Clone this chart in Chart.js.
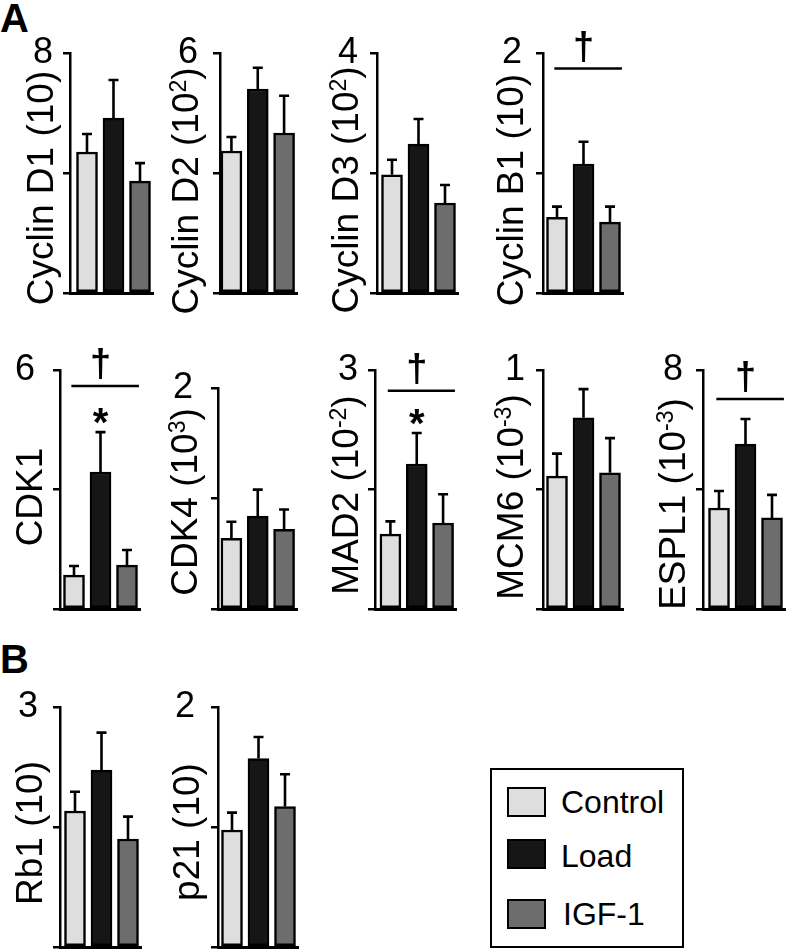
<!DOCTYPE html>
<html>
<head>
<meta charset="utf-8">
<script src="https://cdn.jsdelivr.net/npm/chart.js@4.4.0/dist/chart.umd.min.js"></script>
<style>
  body { margin: 0; width: 786px; height: 949px; overflow: hidden; background: #fff; position: relative; }
  canvas { position: absolute; }
  .txt { position: absolute; white-space: nowrap; color: #000; font-family: 'Liberation Sans', Arial, sans-serif; }
</style>
</head>
<body>
<div class="txt" style="left:0;top:-2px;font-weight:bold;font-size:40px;line-height:40px;">A</div>
<div class="txt" style="left:0;top:639px;font-weight:bold;font-size:40px;line-height:40px;">B</div>
<script>
const genes = ['Cyclin D1', 'Cyclin D2', 'Cyclin D3', 'Cyclin B1', 'CDK1', 'CDK4', 'MAD2', 'MCM6', 'ESPL1', 'Rb1', 'p21'];
// power of ten in the axis title: 0 = none, 1 = "(10)"
const unitPow = [1, 2, 2, 1, 0, 3, -2, -3, -3, 1, 1];
const series = ['Control', 'Load', 'IGF-1'];
const yMax = [8, 6, 4, 2, 6, 2, 3, 1, 8, 3, 2];

const control    = [4.7, 3.55, 1.97, 0.63, 0.85, 0.64, 0.94, 0.556, 3.38, 1.7, 0.975];
const controlErr = [0.6, 0.35, 0.25, 0.09, 0.23, 0.15, 0.16, 0.094, 0.57, 0.24, 0.145];
const load       = [5.83, 5.1, 2.48, 1.075, 3.44, 0.84, 1.82, 0.8, 5.52, 2.21, 1.57];
const loadErr    = [1.27, 0.53, 0.42, 0.185, 1.0, 0.24, 0.39, 0.12, 0.84, 0.47, 0.18];
const igf        = [3.73, 4.0, 1.5, 0.59, 1.1, 0.72, 1.08, 0.57, 3.05, 1.35, 1.17];
const igfErr     = [0.6, 0.93, 0.3, 0.13, 0.38, 0.18, 0.36, 0.145, 0.77, 0.28, 0.27];

// † bracket height (axis units), * over Load
const daggerAt = [null, null, null, 1.87, 5.6, null, 2.74, null, 7.03, null, null];
const starOn   = [false, false, false, false, true, false, true, false, false, false, false];

const barColors = ['#dedede', '#161616', '#6d6d6d'];
const FONT = "'Liberation Sans', Arial, sans-serif";
const STEP = 26.5;
const TITLE_PX = 37, SUP_PX = 23;

// panel placement: axis x, top tick y, baseline y, first bar offset, title baseline x / centre y, label gap
const layout = [
  {ax: 70,  top: 53,  bot: 293, off: 17,   tx: 53,  ty: 188, gap: 17},
  {ax: 220, top: 53,  bot: 293, off: 11.5, tx: 198, ty: 191, gap: 22},
  {ax: 377, top: 53,  bot: 293, off: 15,   tx: 358, ty: 190, gap: 19},
  {ax: 543, top: 53,  bot: 293, off: 14,   tx: 523, ty: 190, gap: 21},
  {ax: 60,  top: 370, bot: 609, off: 14,   tx: 42,  ty: 497, gap: 25},
  {ax: 218, top: 388, bot: 609, off: 13.5, tx: 197, ty: 502, gap: 25},
  {ax: 375, top: 370, bot: 609, off: 15.5, tx: 358, ty: 495, gap: 17},
  {ax: 543, top: 370, bot: 609, off: 14,   tx: 523, ty: 497, gap: 18},
  {ax: 703, top: 370, bot: 609, off: 16,   tx: 685, ty: 504, gap: 20},
  {ax: 60,  top: 707, bot: 947, off: 15,   tx: 42,  ty: 833, gap: 22},
  {ax: 218, top: 707, bot: 947, off: 14,   tx: 199, ty: 832, gap: 23}
];

function titleParts(i) {
  const p = unitPow[i];
  if (p === 0) return [[genes[i], false]];
  if (p === 1) return [[genes[i] + ' (10)', false]];
  return [[genes[i] + ' (10', false], [String(p), true], [')', false]];
}

const panelDecor = {
  id: 'panelDecor',
  afterDatasetsDraw(chart, args, opts) {
    const i = opts.idx;
    const L = layout[i];
    const ctx = chart.ctx;
    const xs = chart.scales.x, ys = chart.scales.y;
    const meta = chart.getDatasetMeta(0);
    const means = [control[i], load[i], igf[i]];
    const errs = [controlErr[i], loadErr[i], igfErr[i]];
    ctx.save();
    ctx.strokeStyle = '#000';
    ctx.fillStyle = '#000';
    ctx.lineWidth = 2.6;
    meta.data.forEach((bar, j) => {
      const yTop = ys.getPixelForValue(means[j] + errs[j]);
      ctx.beginPath();
      ctx.moveTo(bar.x, bar.y);
      ctx.lineTo(bar.x, yTop);
      ctx.moveTo(bar.x - 5, yTop);
      ctx.lineTo(bar.x + 5, yTop);
      ctx.stroke();
    });

    if (daggerAt[i] !== null) {
      const ly = ys.getPixelForValue(daggerAt[i]);
      ctx.lineWidth = 2.5;
      ctx.beginPath();
      ctx.moveTo(xs.getPixelForValue(0.9), ly);
      ctx.lineTo(xs.getPixelForValue(3.45), ly);
      ctx.stroke();
      ctx.font = 'bold 38px ' + FONT;
      ctx.textAlign = 'center';
      ctx.textBaseline = 'alphabetic';
      ctx.fillText('\u2020', xs.getPixelForValue(2), ly - 10);
    }
    if (starOn[i]) {
      const yTop = ys.getPixelForValue(load[i] + loadErr[i]);
      ctx.font = 'bold 40px ' + FONT;
      ctx.textAlign = 'center';
      ctx.textBaseline = 'alphabetic';
      ctx.fillText('*', xs.getPixelForValue(2), yTop + 4);
    }

    // rotated axis title
    ctx.translate(L.tx - L.ax + 70, L.ty - L.top + 40);
    ctx.rotate(-Math.PI / 2);
    const parts = titleParts(i);
    const fontOf = sup => (sup ? SUP_PX : TITLE_PX) + 'px ' + FONT;
    let total = 0;
    parts.forEach(([t, sup]) => {
      ctx.font = fontOf(sup);
      total += ctx.measureText(t).width;
    });
    let cx = -total / 2;
    ctx.textAlign = 'left';
    ctx.textBaseline = 'alphabetic';
    parts.forEach(([t, sup]) => {
      ctx.font = fontOf(sup);
      ctx.fillText(t, cx, sup ? -12 : 0);
      cx += ctx.measureText(t).width;
    });
    ctx.restore();
  }
};

genes.forEach((g, i) => {
  const L = layout[i];
  const W = L.off + 2 * STEP + 13;
  const cv = document.createElement('canvas');
  cv.width = 70 + W + 4;
  cv.height = L.bot - L.top + 80;
  cv.style.left = (L.ax - 70) + 'px';
  cv.style.top = (L.top - 40) + 'px';
  document.body.appendChild(cv);

  new Chart(cv, {
    type: 'bar',
    data: {
      datasets: [{
        label: g,
        data: [control[i], load[i], igf[i]].map((v, j) => ({x: j + 1, y: v})),
        backgroundColor: barColors,
        borderColor: '#000',
        borderWidth: 2.5,
        borderSkipped: false,
        barThickness: 21
      }]
    },
    options: {
      responsive: false,
      animation: false,
      devicePixelRatio: 1,
      events: [],
      layout: { padding: { left: 0, right: 4, top: 40, bottom: 40 } },
      plugins: {
        legend: { display: false },
        tooltip: { enabled: false },
        panelDecor: { idx: i }
      },
      scales: {
        x: {
          type: 'linear',
          offset: false,
          min: 1 - L.off / STEP,
          max: 3 + 13 / STEP,
          ticks: { display: false },
          grid: { display: false, offset: false },
          border: { display: true, color: '#000', width: 3 },
          afterFit: s => { s.height = 0; }
        },
        y: {
          min: 0,
          max: yMax[i],
          ticks: {
            stepSize: yMax[i] / 2,
            color: '#000',
            font: { family: FONT, size: 36 },
            padding: L.gap - 7,
            callback: v => v === yMax[i] ? String(v) : ''
          },
          grid: { display: true, drawOnChartArea: false, drawTicks: true, tickLength: 7, color: '#000', lineWidth: 2.5 },
          border: { display: true, color: '#000', width: 2.5 },
          afterFit: s => { s.width = 70; }
        }
      }
    },
    plugins: [panelDecor]
  });
});

// legend box
const swatchTop = [787, 839, 899];
let html = '<div style="position:absolute;left:490px;top:768px;width:194px;height:180px;border:2px solid #000;box-sizing:border-box;"></div>';
series.forEach((s, j) => {
  html += `<div style="position:absolute;left:507px;top:${swatchTop[j]}px;width:39px;height:30px;background:${barColors[j]};border:2.5px solid #000;box-sizing:border-box;"></div>`;
  html += `<div class="txt" style="left:${j === 2 ? 563 : 561}px;top:${swatchTop[j] + (j === 1 ? 2 : 0)}px;font-size:32px;line-height:31px;">${s}</div>`;
});
document.body.insertAdjacentHTML('beforeend', html);
</script>
</body>
</html>
